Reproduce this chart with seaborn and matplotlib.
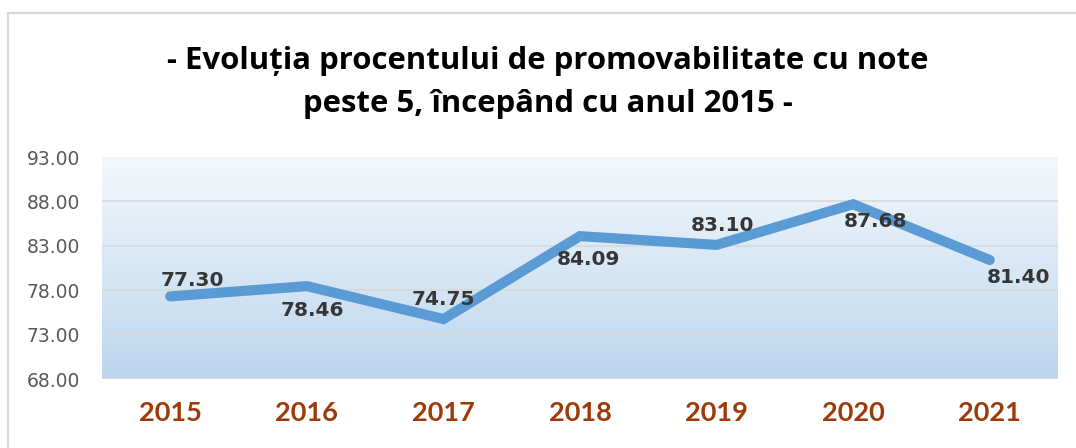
import matplotlib.pyplot as plt
import numpy as np
import pandas as pd
import seaborn as sns
from matplotlib.colors import LinearSegmentedColormap

# date: procent promovabilitate cu note peste 5
ani = ["2015", "2016", "2017", "2018", "2019", "2020", "2021"]
procent = [77.30, 78.46, 74.75, 84.09, 83.10, 87.68, 81.40]
y_ticks = [68, 73, 78, 83, 88, 93]

titlu_1 = "- Evoluția procentului de promovabilitate cu note"
titlu_2 = "peste 5, începând cu anul 2015 -"

# deplasarea etichetelor fata de puncte (pixeli), ca in Excel
label_off = [(22, 16), (6, -24), (0, 20), (8, -23), (6, 19), (22, -17), (29, -17)]

df = pd.DataFrame({"an": ani, "procent": procent})
df["poz"] = df.index

sns.set_style("white")
plt.rcParams["font.family"] = ["DejaVu Sans"]

fig = plt.figure(figsize=(10.76, 4.48), dpi=100)
ax = fig.add_axes([102 / 1076, 1 - 379 / 448, 956 / 1076, 222 / 448])

# fundal cu degrade
cmap = LinearSegmentedColormap.from_list("bg", ["#f4f8fc", "#bcd6ee"])
grad = np.linspace(0, 1, 256).reshape(-1, 1)
ax.imshow(grad, cmap=cmap, aspect="auto", extent=[-0.5, 6.5, 68, 93],
          zorder=0, interpolation="bilinear")

for v in y_ticks[:-1]:
    ax.axhline(v, color="#d9d9d9", lw=1.2, zorder=1)

sns.lineplot(data=df, x="poz", y="procent", ax=ax, color="#5b9bd5",
             linewidth=7.3, zorder=3, solid_capstyle="round",
             solid_joinstyle="miter")

for i, (v, off) in enumerate(zip(procent, label_off)):
    ax.annotate(f"{v:.2f}", (i, v), xytext=off, textcoords="offset pixels",
                ha="center", va="center", fontsize=14.5, fontweight="bold",
                color="#363636", zorder=4)

ax.set_xlim(-0.5, 6.5)
ax.set_ylim(68, 93)
ax.set_yticks(y_ticks)
ax.set_yticklabels([f"{v:.2f}" for v in y_ticks], fontsize=13.5, color="#595959")
ax.set_xticks(df["poz"])
ax.set_xticklabels(ani, fontsize=19.5, fontweight="bold", color="#9e3a0a",
                   family=["Lato", "DejaVu Sans"])
ax.tick_params(axis="y", length=0, pad=16)
ax.tick_params(axis="x", length=0, pad=16)
ax.set_xlabel("")
ax.set_ylabel("")
for s in ax.spines.values():
    s.set_visible(False)

fig.text(0.509, 1 - 61 / 448, titlu_1, ha="center", va="center", fontsize=22.4,
         fontweight="bold", color="#000000", family=["Open Sans", "DejaVu Sans"])
fig.text(0.509, 1 - 104 / 448, titlu_2, ha="center", va="center", fontsize=22.4,
         fontweight="bold", color="#000000", family=["Open Sans", "DejaVu Sans"])

# chenarul graficului (doar sus si stanga se vad)
fig.add_artist(plt.Line2D([8 / 1076, 1], [1 - 13 / 448] * 2, color="#d9d9d9", lw=1.6))
fig.add_artist(plt.Line2D([8 / 1076] * 2, [0, 1 - 13 / 448], color="#d9d9d9", lw=1.6))

fig.savefig("out.png", dpi=100)
